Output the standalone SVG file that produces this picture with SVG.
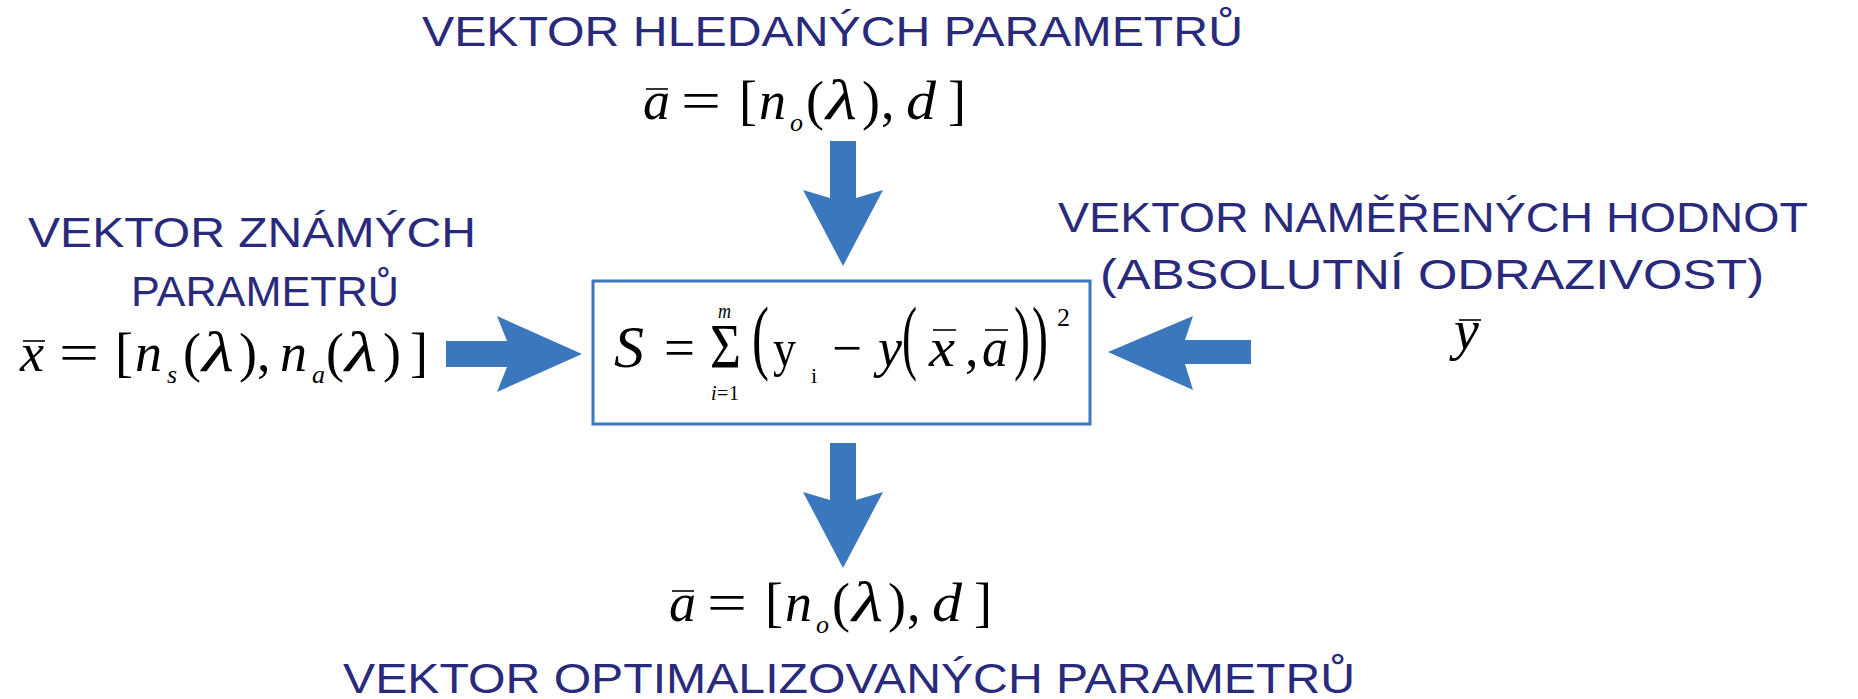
<svg xmlns="http://www.w3.org/2000/svg" width="1858" height="699" viewBox="0 0 1858 699">
<style>
.lbl{font-family:"Liberation Sans",Arial,sans-serif;font-size:42px;fill:#2a2a7c}
.mi{font-family:"Liberation Serif","Times New Roman",serif;font-style:italic;fill:#000}
.mr{font-family:"Liberation Serif","Times New Roman",serif;fill:#000}
.bar{stroke:#000;stroke-width:1.6}
.arr{fill:#3b77bc}
.box{fill:#fff;stroke:#3b77bc;stroke-width:3}
</style>
<rect width="1858" height="699" fill="#fff"/>

<g id="connectors">
<polygon class="arr" points="830,141 856,141 856,198 883,190 843,266 803,190 830,198"/>
<polygon class="arr" points="446,341 507,341 497,316 582,354 497,392 507,367 446,367"/>
<polygon class="arr" points="1251,340 1185,340 1193,316 1108,352 1193,390 1185,364 1251,364"/>
<polygon class="arr" points="830,443 856,443 856,500 883,492 843,568 803,492 830,500"/>
</g>

<g id="node-top">
<text class="lbl" x="422" y="46" textLength="821" lengthAdjust="spacingAndGlyphs">VEKTOR HLEDANÝCH PARAMETRŮ</text>
<g font-size="54">
<text class="mi" x="643" y="119">a</text>
<line class="bar" x1="646" y1="89" x2="668" y2="89"/>
<text class="mr" x="681" y="119" textLength="40" lengthAdjust="spacingAndGlyphs">=</text>
<text class="mr" x="739" y="119">[</text>
<text class="mi" x="759" y="119">n</text>
<text class="mi" font-size="26" x="790" y="131">o</text>
<text class="mr" x="806" y="119">(</text>
<text class="mi" font-size="56" x="826" y="119" textLength="31" lengthAdjust="spacingAndGlyphs">λ</text>
<text class="mr" x="862" y="119">)</text>
<text class="mr" x="881" y="119">,</text>
<text class="mi" x="906" y="119" textLength="30" lengthAdjust="spacingAndGlyphs">d</text>
<text class="mr" x="948" y="119">]</text>
</g>
</g>

<g id="node-left">
<text class="lbl" x="28" y="247" textLength="448" lengthAdjust="spacingAndGlyphs">VEKTOR ZNÁMÝCH</text>
<text class="lbl" x="131" y="306" textLength="268" lengthAdjust="spacingAndGlyphs">PARAMETRŮ</text>
<g font-size="54">
<text class="mi" x="20" y="371">x</text>
<line class="bar" x1="23" y1="341" x2="45" y2="341"/>
<text class="mr" x="59" y="371" textLength="40" lengthAdjust="spacingAndGlyphs">=</text>
<text class="mr" x="115" y="371">[</text>
<text class="mi" x="135" y="371">n</text>
<text class="mi" font-size="26" x="167" y="383">s</text>
<text class="mr" x="183" y="371">(</text>
<text class="mi" font-size="56" x="202" y="371" textLength="32" lengthAdjust="spacingAndGlyphs">λ</text>
<text class="mr" x="239" y="371">)</text>
<text class="mr" x="257" y="371">,</text>
<text class="mi" x="280" y="371">n</text>
<text class="mi" font-size="26" x="312" y="383">a</text>
<text class="mr" x="326" y="371">(</text>
<text class="mi" font-size="56" x="345" y="371" textLength="32" lengthAdjust="spacingAndGlyphs">λ</text>
<text class="mr" x="383" y="371">)</text>
<text class="mr" x="410" y="371">]</text>
</g>
</g>

<g id="node-right">
<text class="lbl" x="1058" y="232" textLength="750" lengthAdjust="spacingAndGlyphs">VEKTOR NAMĚŘENÝCH HODNOT</text>
<text class="lbl" x="1100" y="289" textLength="664" lengthAdjust="spacingAndGlyphs">(ABSOLUTNÍ ODRAZIVOST)</text>
<text class="mi" font-size="56" x="1454" y="349">y</text>
<line class="bar" x1="1459" y1="320" x2="1481" y2="320"/>
</g>

<g id="node-box">
<rect class="box" x="593" y="281" width="497" height="143"/>
<g font-size="54">
<text class="mi" font-size="60" x="614" y="367">S</text>
<text class="mr" x="664" y="366" textLength="31" lengthAdjust="spacingAndGlyphs">=</text>
<text class="mr" font-size="64" x="710" y="368" textLength="31" lengthAdjust="spacingAndGlyphs">Σ</text>
<text class="mi" font-size="22" x="718" y="318" textLength="13" lengthAdjust="spacingAndGlyphs">m</text>
<text class="mi" font-size="20" x="711" y="400">i</text>
<text class="mr" font-size="20" x="717" y="400">=</text>
<text class="mr" font-size="20" x="729" y="400">1</text>
<text class="mr" font-size="82" x="752" y="364" textLength="17" lengthAdjust="spacingAndGlyphs">(</text>
<text class="mr" font-size="52" x="773" y="366" textLength="23" lengthAdjust="spacingAndGlyphs">y</text>
<text class="mr" font-size="22" x="811" y="383">i</text>
<text class="mr" x="832" y="366" textLength="30" lengthAdjust="spacingAndGlyphs">−</text>
<text class="mi" x="878" y="366">y</text>
<text class="mr" font-size="82" x="902" y="364" textLength="15" lengthAdjust="spacingAndGlyphs">(</text>
<text class="mi" x="929" y="366" textLength="26" lengthAdjust="spacingAndGlyphs">x</text>
<line class="bar" x1="933" y1="330" x2="956" y2="330"/>
<text class="mr" x="965" y="366">,</text>
<text class="mi" x="982" y="366" textLength="26" lengthAdjust="spacingAndGlyphs">a</text>
<line class="bar" x1="985" y1="330" x2="1008" y2="330"/>
<text class="mr" font-size="82" x="1014" y="364" textLength="16" lengthAdjust="spacingAndGlyphs">)</text>
<text class="mr" font-size="82" x="1032" y="364" textLength="16" lengthAdjust="spacingAndGlyphs">)</text>
<text class="mr" font-size="26" x="1057" y="326">2</text>
</g>
</g>

<g id="node-bottom">
<g font-size="54">
<text class="mi" x="669" y="621">a</text>
<line class="bar" x1="672" y1="591" x2="694" y2="591"/>
<text class="mr" x="707" y="621" textLength="40" lengthAdjust="spacingAndGlyphs">=</text>
<text class="mr" x="765" y="621">[</text>
<text class="mi" x="785" y="621">n</text>
<text class="mi" font-size="26" x="816" y="633">o</text>
<text class="mr" x="832" y="621">(</text>
<text class="mi" font-size="56" x="852" y="621" textLength="31" lengthAdjust="spacingAndGlyphs">λ</text>
<text class="mr" x="888" y="621">)</text>
<text class="mr" x="907" y="621">,</text>
<text class="mi" x="932" y="621" textLength="30" lengthAdjust="spacingAndGlyphs">d</text>
<text class="mr" x="974" y="621">]</text>
</g>
<text class="lbl" x="343" y="693" textLength="1012" lengthAdjust="spacingAndGlyphs">VEKTOR OPTIMALIZOVANÝCH PARAMETRŮ</text>
</g>
</svg>
